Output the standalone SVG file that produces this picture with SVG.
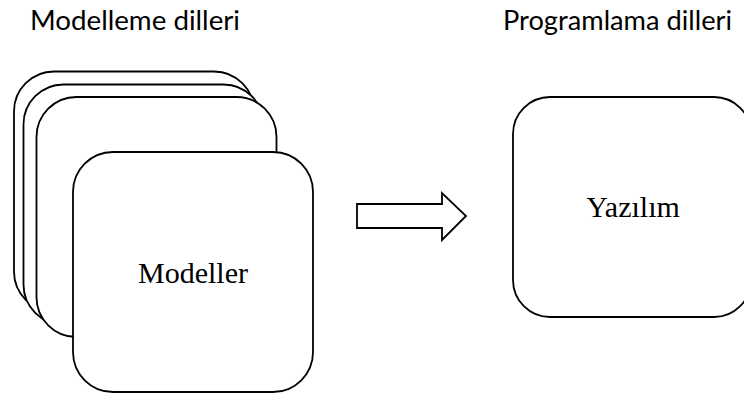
<svg xmlns="http://www.w3.org/2000/svg" width="744" height="396" viewBox="0 0 744 396">
  <style>
    .card { fill: #ffffff; stroke: #000000; stroke-width: 1.8; }
    .heading { font-family: Lato, "Open Sans", "Liberation Sans", sans-serif; font-size: 27px; fill: #000000; }
    .label { font-family: "Liberation Serif", "Times New Roman", serif; font-size: 30px; fill: #000000; text-anchor: middle; }
    .arrow { fill: #ffffff; stroke: #000000; stroke-width: 1.8; stroke-linejoin: miter; }
  </style>
  <rect width="744" height="396" fill="#ffffff"/>

  <!-- column headings -->
  <text id="heading-modelling" class="heading" x="30" y="30" textLength="210" lengthAdjust="spacingAndGlyphs">Modelleme dilleri</text>
  <text id="heading-programming" class="heading" x="503" y="30" textLength="229" lengthAdjust="spacingAndGlyphs">Programlama dilleri</text>

  <!-- stack of model cards, back to front -->
  <g id="model-stack">
    <rect id="card-back-1" class="card" x="14" y="71.5" width="240" height="240" rx="40" ry="40"/>
    <rect id="card-back-2" class="card" x="23.5" y="84.5" width="240" height="240" rx="40" ry="40"/>
    <rect id="card-back-3" class="card" x="36.5" y="97" width="240" height="240" rx="40" ry="40"/>
  </g>
  <g id="node-modeller">
    <rect class="card" x="73" y="152" width="240" height="240" rx="40" ry="40"/>
    <text class="label" x="193" y="283">Modeller</text>
  </g>

  <!-- software box -->
  <g id="node-yazilim">
    <rect class="card" x="513" y="97" width="238" height="220" rx="37" ry="37"/>
    <text class="label" x="633" y="217">Yazılım</text>
  </g>

  <!-- block arrow from models to software -->
  <g id="connectors">
    <polygon class="arrow" points="357,204 442,204 442,193 466,216 442,240 442,228 357,228"/>
  </g>
</svg>
